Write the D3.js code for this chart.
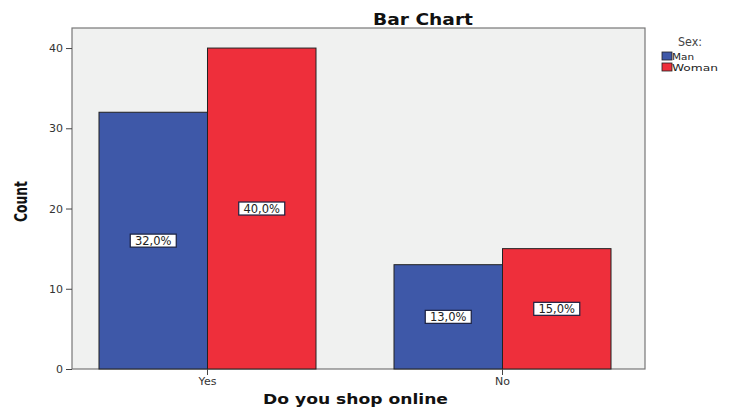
<!DOCTYPE html>
<html><head><meta charset="utf-8">
<script src="https://cdn.jsdelivr.net/npm/d3@7"></script>
<style>body{margin:0;background:#fff;} text{font-family:"DejaVu Sans",Verdana,sans-serif;}</style>
</head><body>
<svg id="c" width="729" height="409"></svg>
<script>
const categories = ["Yes", "No"];
const series = ["Man", "Woman"];
const manValues = [32, 13];
const womanValues = [40, 15];
const manPct = ["32,0%", "13,0%"];
const womanPct = ["40,0%", "15,0%"];
const yTicks = [0, 10, 20, 30, 40];
const colors = ["#3e58a8", "#ee2f3b"];

const svg = d3.select("#c");
const L = 72, R = 645, T = 28, B = 369;
const x = d3.scaleBand().domain(categories).range([L, 638]).paddingInner(0.2644).paddingOuter(0.0915);
const x1 = d3.scaleBand().domain(series).range([0, x.bandwidth()]);
const y = d3.scaleLinear().domain([0, 42.5]).range([B, T]);

svg.append("rect").attr("x", L).attr("y", T).attr("width", R - L).attr("height", B - T)
  .attr("fill", "#f0f1f0").attr("stroke", "#777").attr("stroke-width", 1.2);

const data = categories.map((c, i) => ({cat: c, vals: [
  {s: "Man", v: manValues[i], p: manPct[i]},
  {s: "Woman", v: womanValues[i], p: womanPct[i]}]}));

const g = svg.selectAll(".grp").data(data).enter().append("g")
  .attr("transform", d => `translate(${x(d.cat)},0)`);
g.selectAll("rect").data(d => d.vals).enter().append("rect")
  .attr("x", d => x1(d.s)).attr("y", d => y(d.v))
  .attr("width", x1.bandwidth()).attr("height", d => y(0) - y(d.v))
  .attr("fill", (d, i) => colors[i]).attr("stroke", "#222").attr("stroke-width", 1);

const lab = g.selectAll(".lab").data(d => d.vals).enter().append("g")
  .attr("transform", d => `translate(${x1(d.s) + x1.bandwidth() / 2},${(y(d.v) + y(0)) / 2})`);
lab.append("rect").attr("x", -23).attr("y", -6.5).attr("width", 46).attr("height", 13)
  .attr("fill", "#fff").attr("stroke", "#1a2040").attr("stroke-width", 1.2);
lab.append("text").attr("text-anchor", "middle").attr("dy", "0.36em")
  .attr("font-size", 11.5).attr("fill", "#222").text(d => d.p);

// y axis
const ya = svg.append("g").attr("transform", `translate(${L},0)`)
  .call(d3.axisLeft(y).tickValues(yTicks).tickSize(6).tickPadding(3));
ya.select(".domain").remove();
ya.selectAll("line").attr("stroke", "#444");
ya.selectAll("text").attr("font-size", 11).attr("fill", "#333").attr("font-family", "DejaVu Sans, Verdana, sans-serif");

// x axis
const xa = svg.append("g").attr("transform", `translate(0,${B})`)
  .call(d3.axisBottom(x).tickSize(6).tickPadding(2));
xa.select(".domain").remove();
xa.selectAll("line").attr("stroke", "#444");
xa.selectAll("text").attr("font-size", 11).attr("fill", "#333").attr("font-family", "DejaVu Sans, Verdana, sans-serif");

svg.append("text").attr("x", 373).attr("y", 25)
  .attr("font-size", 16).attr("font-weight", "bold").attr("fill", "#111")
  .attr("textLength", 100).attr("lengthAdjust", "spacingAndGlyphs").text("Bar Chart");
svg.append("text").attr("x", 263).attr("y", 404)
  .attr("font-size", 14.5).attr("font-weight", "bold").attr("fill", "#111")
  .attr("textLength", 185).attr("lengthAdjust", "spacingAndGlyphs").text("Do you shop online");
svg.append("text").attr("transform", "translate(27,222) rotate(-90)")
  .attr("font-size", 18).attr("font-weight", "bold").attr("fill", "#111")
  .attr("font-family", "Liberation Sans, Arial, sans-serif")
  .attr("textLength", 41).attr("lengthAdjust", "spacingAndGlyphs").text("Count");

// legend
svg.append("text").attr("x", 678).attr("y", 46)
  .attr("font-size", 12).attr("fill", "#444").attr("textLength", 24).attr("lengthAdjust", "spacingAndGlyphs").text("Sex:");
const lg = svg.selectAll(".lg").data(series).enter().append("g")
  .attr("transform", (d, i) => `translate(662,${52 + i * 11})`);
lg.append("rect").attr("width", 10).attr("height", 8).attr("fill", (d, i) => colors[i])
  .attr("stroke", "#222").attr("stroke-width", 0.8);
lg.append("text").attr("x", 10).attr("y", 7.5).attr("font-size", 9.5).attr("fill", "#222")
  .attr("textLength", (d, i) => i === 0 ? 22 : 46).attr("lengthAdjust", "spacingAndGlyphs").text(d => d);
</script>
</body></html>
